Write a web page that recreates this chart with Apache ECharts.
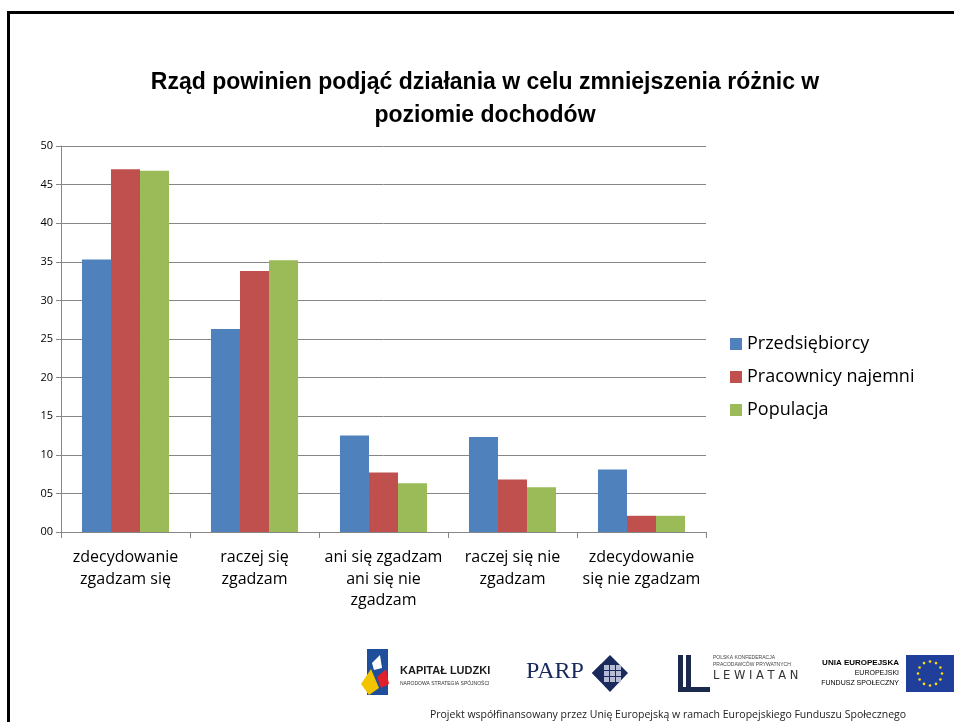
<!DOCTYPE html>
<html><head><meta charset="utf-8">
<script src="https://cdn.jsdelivr.net/npm/echarts@6/dist/echarts.min.js"></script>
<style>html,body{margin:0;padding:0;background:#fff}#c{width:954px;height:722px}</style>
</head><body><div id="c"></div>
<script>
const categories = ['zdecydowanie\nzgadzam się', 'raczej się\nzgadzam', 'ani się zgadzam\nani się nie\nzgadzam', 'raczej się nie\nzgadzam', 'zdecydowanie\nsię nie zgadzam'];
const seriesNames = ['Przedsiębiorcy', 'Pracownicy najemni', 'Populacja'];
const przedsiebiorcy = [35.3, 26.3, 12.5, 12.3, 8.1];
const pracownicy = [47.0, 33.8, 7.7, 6.8, 2.1];
const populacja = [46.8, 35.2, 6.3, 5.8, 2.1];
const colors = ['#4F81BD', '#C0504D', '#9BBB59'];
const seriesData = [przedsiebiorcy, pracownicy, populacja];

const font = 'Open Sans, Noto Sans, sans-serif';
const chart = echarts.init(document.getElementById('c'));

const stars = [];
for (let i = 0; i < 12; i++) {
  const a = i * Math.PI / 6;
  stars.push({type: 'circle', shape: {cx: 930 + 12 * Math.cos(a), cy: 673.5 + 12 * Math.sin(a), r: 1.3}, style: {fill: '#FFDD00'}});
}
const parpSquares = [];
for (let r = 0; r < 3; r++) for (let c = 0; c < 3; c++) {
  parpSquares.push({type: 'rect', shape: {x: 604 + c * 6, y: 665 + r * 6, width: 5, height: 5}, style: {fill: '#B7BCD6'}});
}

chart.setOption({
  animation: false,
  title: {
    text: 'Rząd powinien podjąć działania w celu zmniejszenia różnic w\npoziomie dochodów',
    left: 480, top: 61, textAlign: 'center',
    textStyle: {fontFamily: 'Liberation Sans, sans-serif', fontWeight: 'bold', fontSize: 23, lineHeight: 33, color: '#000'}
  },
  legend: {
    orient: 'vertical', left: 725, top: 330, itemWidth: 12, itemHeight: 12, itemGap: 15,
    icon: 'rect',
    textStyle: {fontFamily: font, fontSize: 18, color: '#000'},
    data: seriesNames
  },
  grid: {left: 61, top: 146, width: 645, height: 386},
  xAxis: {
    type: 'category', data: categories,
    axisLine: {lineStyle: {color: '#868686', width: 1}},
    axisTick: {show: true, length: 6, lineStyle: {color: '#868686'}},
    axisLabel: {interval: 0, margin: 15, fontFamily: font, fontSize: 16, lineHeight: 21.5, color: '#000'}
  },
  yAxis: {
    type: 'value', min: 0, max: 50, interval: 5,
    axisLine: {show: true, lineStyle: {color: '#868686'}},
    axisTick: {show: true, length: 5, lineStyle: {color: '#868686'}},
    splitLine: {lineStyle: {color: '#868686', width: 1}},
    axisLabel: {margin: 8, fontFamily: font, fontSize: 11, color: '#000',
      formatter: v => (v < 10 ? '0' + v : '' + v)}
  },
  series: seriesData.map((d, i) => ({
    name: seriesNames[i], type: 'bar', data: d,
    barGap: '0%', barCategoryGap: '32.5%',
    itemStyle: {color: colors[i]}
  })),
  graphic: [
    {type: 'rect', shape: {x: 8.5, y: 12.5, width: 1000, height: 800}, style: {fill: 'none', stroke: '#000', lineWidth: 3}, silent: true},
    // Kapital Ludzki
    {type: 'polygon', shape: {points: [[367, 649], [388, 649], [388, 695], [367, 695]]}, style: {fill: '#1F4E9A'}},
    {type: 'polygon', shape: {points: [[361, 684], [371, 669], [379, 688], [369, 695]]}, style: {fill: '#F2C500'}},
    {type: 'polygon', shape: {points: [[377, 677], [386, 669], [389, 684], [381, 688]]}, style: {fill: '#E0202A'}},
    {type: 'polygon', shape: {points: [[372, 663], [380, 655], [382, 668], [374, 670]]}, style: {fill: '#FFFFFF'}},
    {type: 'text', style: {text: 'KAPITAŁ LUDZKI', x: 400, y: 665, fontFamily: 'Liberation Sans, sans-serif', fontWeight: 'bold', fontSize: 11, fill: '#1a1a1a'}},
    {type: 'text', style: {text: 'NARODOWA STRATEGIA SPÓJNOŚCI', x: 400, y: 681, fontFamily: 'Liberation Sans, sans-serif', fontSize: 5, fill: '#333'}},
    // PARP
    {type: 'text', style: {text: 'PARP', x: 526, y: 660, fontFamily: 'Liberation Serif, serif', fontSize: 24, fill: '#1B2A5C'}},
    {type: 'polygon', shape: {points: [[592, 673], [610, 655], [628, 673], [610, 692]]}, style: {fill: '#1B2A5C'}},
    ...parpSquares,
    {type: 'polygon', shape: {points: [[592, 673], [601, 664], [601, 682]]}, style: {fill: '#1B2A5C'}},
    // Lewiatan
    {type: 'rect', shape: {x: 678, y: 655, width: 5, height: 37}, style: {fill: '#1B2A4C'}},
    {type: 'rect', shape: {x: 686, y: 655, width: 5, height: 32}, style: {fill: '#1B2A4C'}},
    {type: 'rect', shape: {x: 678, y: 687, width: 32, height: 5}, style: {fill: '#1B2A4C'}},
    {type: 'text', style: {text: 'POLSKA KONFEDERACJA', x: 713, y: 655, fontFamily: 'Liberation Sans, sans-serif', fontSize: 5, fill: '#444'}},
    {type: 'text', style: {text: 'PRACODAWCÓW PRYWATNYCH', x: 713, y: 662, fontFamily: 'Liberation Sans, sans-serif', fontSize: 5, fill: '#444'}},
    {type: 'text', style: {text: 'L E W I A T A N', x: 713, y: 670, fontFamily: 'DejaVu Sans, sans-serif', fontSize: 11.5, fill: '#333'}},
    // EU
    {type: 'text', style: {text: 'UNIA EUROPEJSKA', x: 899, y: 659, align: 'right', fontFamily: 'Liberation Sans, sans-serif', fontWeight: 'bold', fontSize: 8, fill: '#000'}},
    {type: 'text', style: {text: 'EUROPEJSKI', x: 899, y: 670, align: 'right', fontFamily: 'Liberation Sans, sans-serif', fontSize: 7, fill: '#000'}},
    {type: 'text', style: {text: 'FUNDUSZ SPOŁECZNY', x: 899, y: 680, align: 'right', fontFamily: 'Liberation Sans, sans-serif', fontSize: 7, fill: '#000'}},
    {type: 'rect', shape: {x: 906, y: 655, width: 48, height: 37}, style: {fill: '#1F3F9A'}},
    ...stars,
    {type: 'text', style: {text: 'Projekt współfinansowany przez Unię Europejską w ramach Europejskiego Funduszu Społecznego', x: 668, y: 710, align: 'center', fontFamily: 'Open Sans, sans-serif', fontSize: 10.5, fill: '#222'}}
  ]
});
</script>
</body></html>
